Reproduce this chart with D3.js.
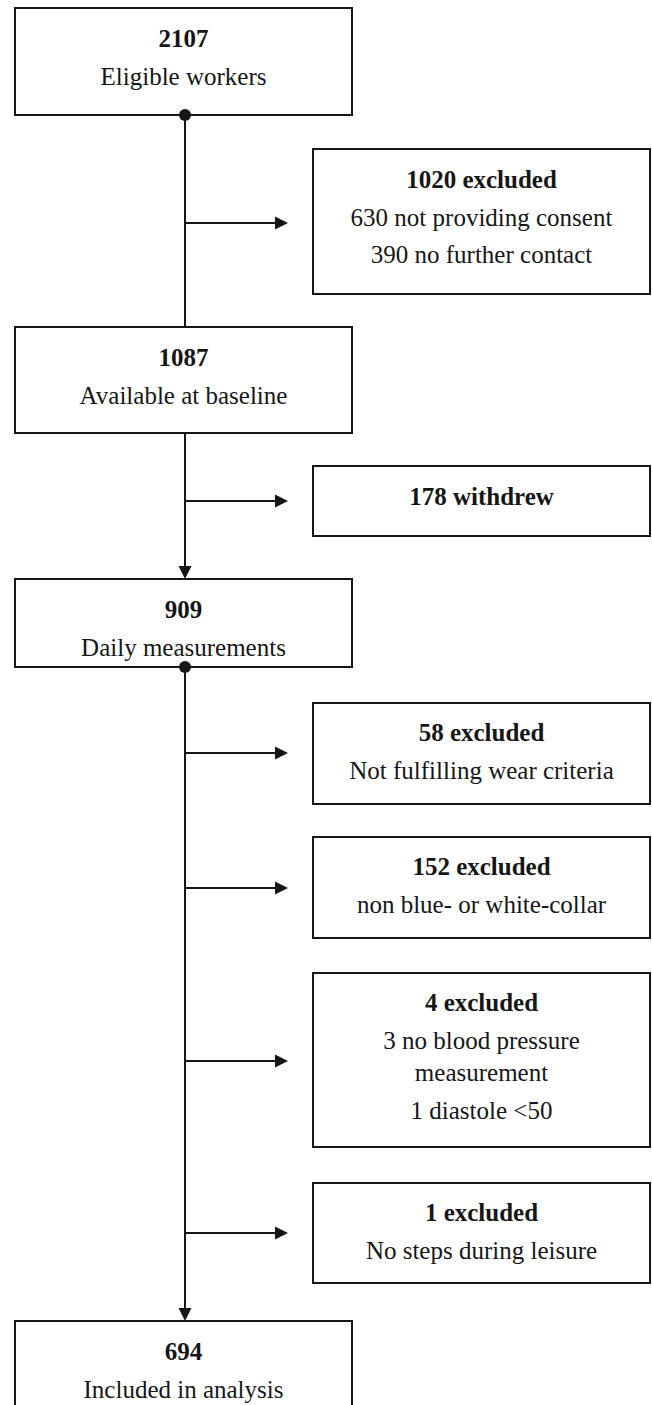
<!DOCTYPE html>
<html>
<head>
<meta charset="utf-8">
<script src="https://cdn.jsdelivr.net/npm/d3@7"></script>
<style>
  html, body { margin: 0; padding: 0; background: #fff; }
  svg { display: block; }
</style>
</head>
<body>
<div id="chart"></div>
<script>
// ---- data ----
const mainCounts = ["2107", "1087", "909", "694"];
const mainLabels = ["Eligible workers", "Available at baseline", "Daily measurements", "Included in analysis"];
const exclHeads = ["1020 excluded", "178 withdrew", "58 excluded", "152 excluded", "4 excluded", "1 excluded"];
const exclDetails = [
  ["630 not providing consent", "390 no further contact"],
  [],
  ["Not fulfilling wear criteria"],
  ["non blue- or white-collar"],
  ["3 no blood pressure", "measurement", "1 diastole <50"],
  ["No steps during leisure"]
];

// ---- layout (positions kept separate from data) ----
const W = 652, H = 1405;
const mainX = [15, 352];
const sideX = [313, 650];
const spineX = 185;
const mainY = [[8, 115], [327, 433], [579, 667], [1321, 1430]];
const sideY = [[149, 294], [466, 536], [703, 804], [837, 938], [973, 1147], [1183, 1283]];
const arrowY = [223, 501, 753, 888, 1061, 1233];
const sideLineOffsets = [[39, 77, 114], [39], [38, 76], [38, 76], [38, 76, 108, 146], [38, 76]];
const ink = "#161616";
const font = "'Liberation Serif', 'Times New Roman', serif";
const fs = 25;

const svg = d3.select("#chart").append("svg")
  .attr("width", W).attr("height", H)
  .attr("viewBox", `0 0 ${W} ${H}`);

// Spine lines
const spine = [[mainY[0][1], mainY[1][0]], [mainY[1][1], mainY[2][0]], [mainY[2][1], mainY[3][0]]];
svg.append("g").selectAll("line").data(spine).join("line")
  .attr("x1", spineX).attr("x2", spineX)
  .attr("y1", d => d[0]).attr("y2", (d, i) => i === 0 ? d[1] : d[1] - 10)
  .attr("stroke", ink).attr("stroke-width", 2);

// vertical arrowheads
svg.append("g").selectAll("path").data([mainY[2][0], mainY[3][0]]).join("path")
  .attr("d", y => `M${spineX},${y} L${spineX - 6.5},${y - 13} L${spineX + 6.5},${y - 13} Z`)
  .attr("fill", ink);

// horizontal arrows
const arrowEnd = 288;
const ag = svg.append("g");
ag.selectAll("line").data(arrowY).join("line")
  .attr("x1", spineX).attr("x2", arrowEnd - 10)
  .attr("y1", d => d).attr("y2", d => d)
  .attr("stroke", ink).attr("stroke-width", 2);
ag.selectAll("path").data(arrowY).join("path")
  .attr("d", y => `M${arrowEnd},${y} L${arrowEnd - 13},${y - 6.5} L${arrowEnd - 13},${y + 6.5} Z`)
  .attr("fill", ink);

// main boxes
const mainG = svg.append("g").selectAll("g").data(mainCounts).join("g");
mainG.append("rect")
  .attr("x", mainX[0]).attr("width", mainX[1] - mainX[0])
  .attr("y", (d, i) => mainY[i][0]).attr("height", (d, i) => mainY[i][1] - mainY[i][0])
  .attr("fill", "#fff").attr("stroke", ink).attr("stroke-width", 2);
mainG.append("text")
  .attr("x", (mainX[0] + mainX[1]) / 2)
  .attr("y", (d, i) => mainY[i][0] + 39)
  .attr("text-anchor", "middle").attr("font-family", font).attr("font-size", fs)
  .attr("font-weight", "bold").attr("fill", ink)
  .text(d => d);
mainG.append("text")
  .attr("x", (mainX[0] + mainX[1]) / 2)
  .attr("y", (d, i) => mainY[i][0] + 77)
  .attr("text-anchor", "middle").attr("font-family", font).attr("font-size", fs)
  .attr("fill", ink)
  .text((d, i) => mainLabels[i]);

// dots over box edges
svg.append("g").selectAll("circle").data([mainY[0][1], mainY[2][1]]).join("circle")
  .attr("cx", spineX).attr("cy", d => d).attr("r", 6).attr("fill", ink);

// side boxes
const sideG = svg.append("g").selectAll("g").data(exclHeads).join("g");
sideG.append("rect")
  .attr("x", sideX[0]).attr("width", sideX[1] - sideX[0])
  .attr("y", (d, i) => sideY[i][0]).attr("height", (d, i) => sideY[i][1] - sideY[i][0])
  .attr("fill", "#fff").attr("stroke", ink).attr("stroke-width", 2);
sideG.each(function(head, i) {
  const g = d3.select(this);
  const lines = [head].concat(exclDetails[i]);
  g.selectAll("text").data(lines).join("text")
    .attr("x", (sideX[0] + sideX[1]) / 2)
    .attr("y", (d, j) => sideY[i][0] + sideLineOffsets[i][j])
    .attr("text-anchor", "middle").attr("font-family", font).attr("font-size", fs)
    .attr("font-weight", (d, j) => j === 0 ? "bold" : "normal")
    .attr("fill", ink)
    .text(d => d);
});
</script>
</body>
</html>
